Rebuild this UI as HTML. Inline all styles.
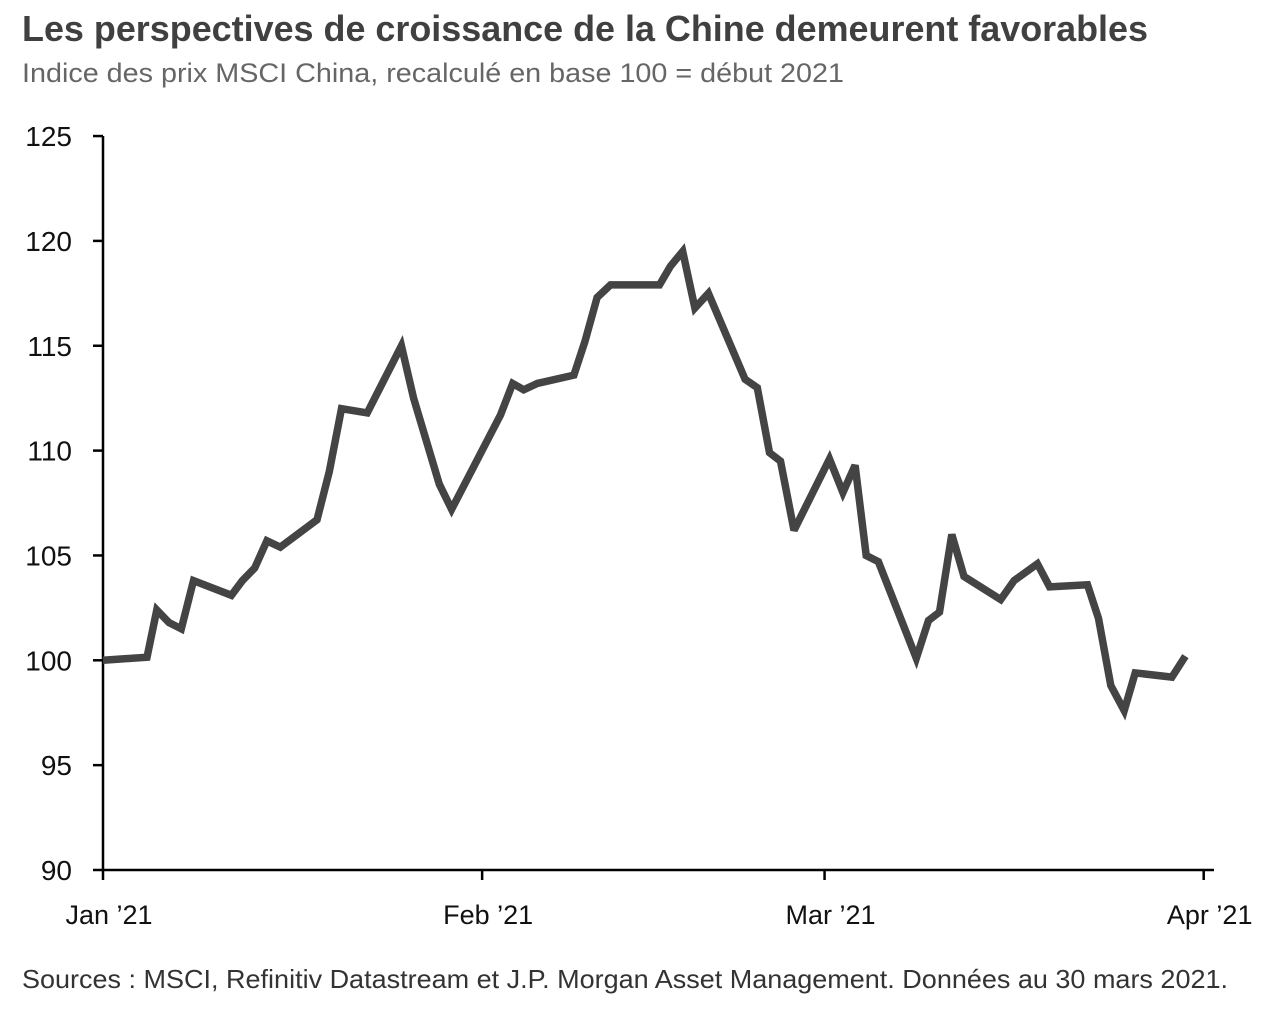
<!DOCTYPE html>
<html><head><meta charset="utf-8"><style>
html,body{margin:0;padding:0;background:#fff;}
svg{display:block;font-family:"Liberation Sans Narrow","Liberation Sans",sans-serif;}
</style></head><body>
<svg id="chart" width="1275" height="1017" viewBox="0 0 1275 1017" xmlns="http://www.w3.org/2000/svg">
<text x="22" y="41" font-size="36" font-weight="bold" fill="#404040" textLength="1126" lengthAdjust="spacingAndGlyphs">Les perspectives de croissance de la Chine demeurent favorables</text>
<text x="22" y="82" font-size="27" fill="#666" textLength="822" lengthAdjust="spacingAndGlyphs">Indice des prix MSCI China, recalculé en base 100 = début 2021</text>
<text x="22" y="988" font-size="26" fill="#333" textLength="1206" lengthAdjust="spacingAndGlyphs">Sources : MSCI, Refinitiv Datastream et J.P. Morgan Asset Management. Données au 30 mars 2021.</text>
<g id="axes"></g>
<g id="marks"></g>
</svg>
<script>
const yTicks = [90, 95, 100, 105, 110, 115, 120, 125];
const xTickDays = [0, 31, 59, 90];
const xTickLabels = ["Jan \u201921", "Feb \u201921", "Mar \u201921", "Apr \u201921"];
const days = [0,3.6,4.4,5.4,6.4,7.4,10.5,11.4,12.4,13.4,14.5,17.5,18.5,19.5,21.6,24.4,25.4,27.5,28.5,32.5,33.5,34.4,35.5,38.5,39.4,40.4,41.5,45.5,46.4,47.4,48.4,49.5,52.5,53.5,54.5,55.4,56.5,59.4,60.5,61.5,62.4,63.4,66.5,67.5,68.4,69.4,70.4,73.4,74.5,76.4,77.4,80.5,81.4,82.4,83.5,84.4,87.4,88.5];
const values = [100,100.15,102.4,101.8,101.5,103.8,103.1,103.8,104.4,105.7,105.4,106.7,109.0,112.0,111.8,115.0,112.5,108.4,107.2,111.7,113.2,112.9,113.2,113.6,115.2,117.3,117.9,117.9,118.8,119.5,116.8,117.5,113.4,113.0,109.9,109.5,106.2,109.6,108.0,109.3,105.0,104.7,100.1,101.9,102.3,106.0,104.0,102.9,103.8,104.6,103.5,103.6,102.0,98.8,97.6,99.4,99.2,100.2];

const NS = "http://www.w3.org/2000/svg";
const X0 = 103, PX_PER_DAY = 12.23, Y_BASE = 870, PX_PER_UNIT = 20.97, YMIN = 90;
const xs = d => X0 + d * PX_PER_DAY;
const ys = v => Y_BASE - (v - YMIN) * PX_PER_UNIT;
const axes = document.getElementById("axes"), marks = document.getElementById("marks");
function mk(tag, attrs, parent){const e=document.createElementNS(NS,tag);for(const k in attrs)e.setAttribute(k,attrs[k]);parent.appendChild(e);return e;}

const ya = mk("line",{x1:X0,y1:ys(125),x2:X0,y2:Y_BASE,stroke:"#000","stroke-width":2.5},axes);


const xa = mk("line",{x1:X0-1,y1:Y_BASE,x2:1214,y2:Y_BASE,stroke:"#000","stroke-width":2.5},axes);



yTicks.forEach(v=>{
  const t = mk("line",{x1:X0-10,y1:ys(v),x2:X0,y2:ys(v),stroke:"#000","stroke-width":2.5},axes);
  
  
  const l = mk("text",{x:72,y:ys(v)+10,"font-size":28,"text-anchor":"end",fill:"#111"},axes);
  l.textContent = v;
  
  
});
xTickDays.forEach((d,i)=>{
  const t = mk("line",{x1:xs(d),y1:Y_BASE,x2:xs(d),y2:Y_BASE+10,stroke:"#000","stroke-width":2.5},axes);
  
  
  const l = mk("text",{x:xs(d)+6,y:924,"font-size":27,"text-anchor":"middle",fill:"#111"},axes);
  l.textContent = xTickLabels[i];
  
  
});
const pts = days.map((d,i)=>xs(d).toFixed(1)+","+ys(values[i]).toFixed(1)).join(" ");
const line = mk("polyline",{points:pts,fill:"none",stroke:"#444","stroke-width":7.5,"stroke-linejoin":"miter","stroke-miterlimit":3},marks);


</script>
</body></html>
